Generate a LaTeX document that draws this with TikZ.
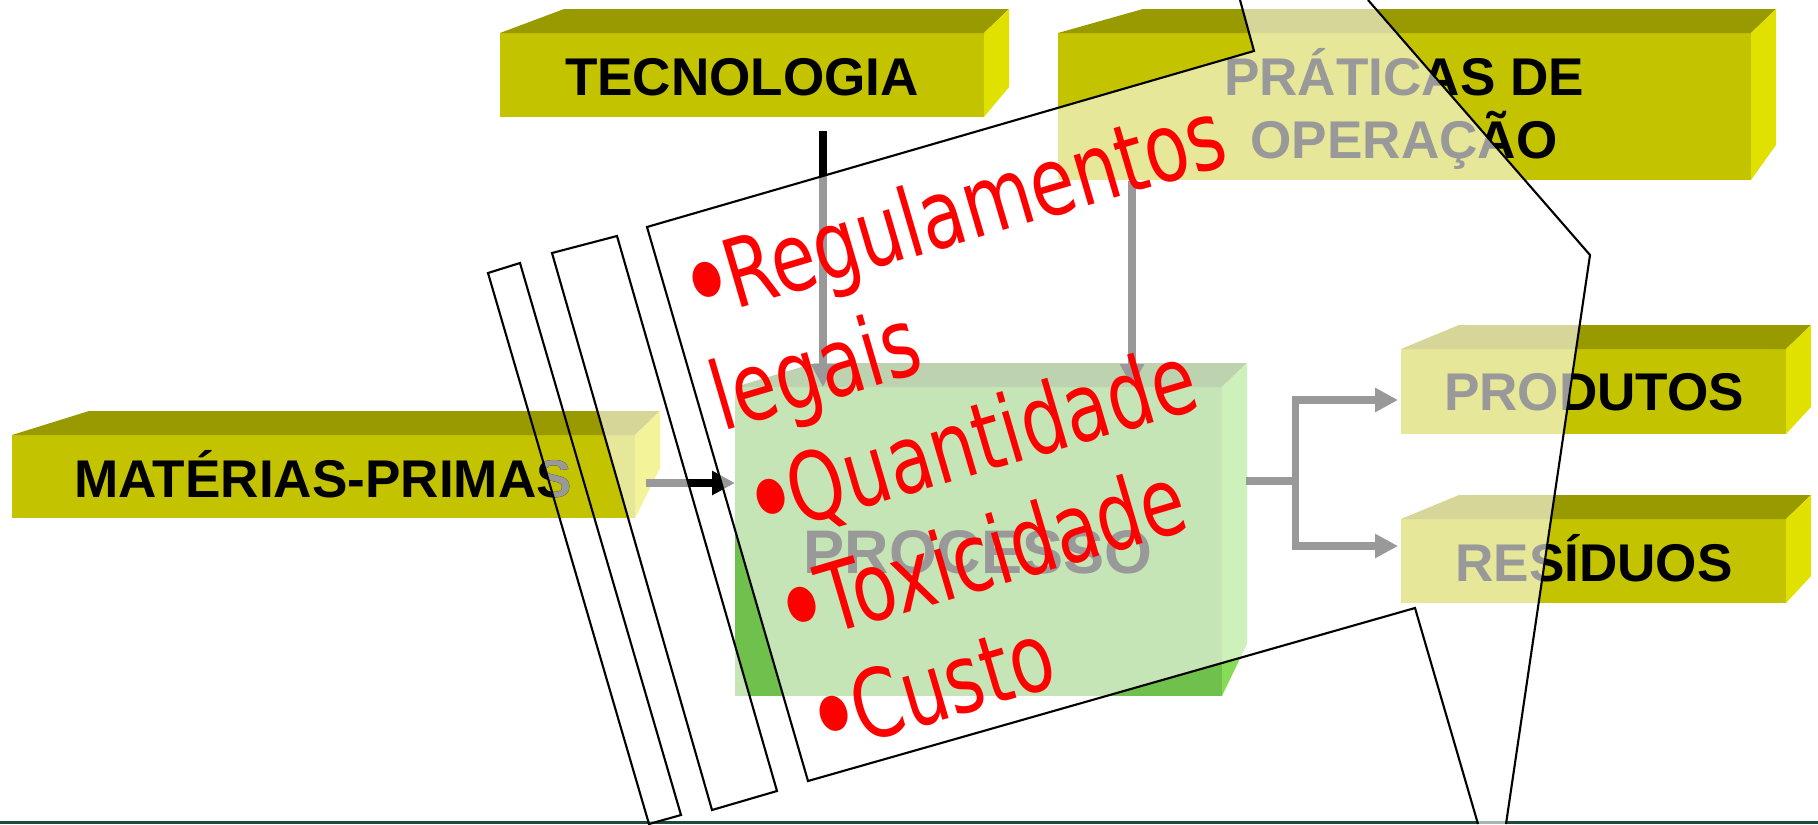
\documentclass[tikz,border=0pt]{standalone}
\usepackage{fontspec}
\newfontfamily\arial{Liberation Sans}
\newfontfamily\tahoma[FakeStretch=0.76]{DejaVu Sans}
\usetikzlibrary{arrows.meta}

\definecolor{amareloF}{HTML}{C3C300}
\definecolor{amareloT}{HTML}{999900}
\definecolor{amareloL}{HTML}{E1E100}
\definecolor{verdeF}{HTML}{70C04D}
\definecolor{verdeT}{HTML}{5A9337}
\definecolor{verdeL}{HTML}{86DC55}
\definecolor{rodape}{HTML}{1F4B39}
\definecolor{cinza}{HTML}{999999}

\newcommand\marca{{\fontsize{35pt}{32pt}\selectfont\raisebox{-2.6pt}{•}}\kern-2.5pt}

\begin{document}
\begin{tikzpicture}[x=0.01cm, y=-0.01cm,
    rotulo/.style={font=\arial\bfseries\fontsize{15.1pt}{18pt}\selectfont, inner sep=0pt, anchor=base},
    topico/.style={text=red, font=\tahoma\fontsize{27pt}{32pt}\selectfont, rotate=16.4, anchor=base west, inner sep=0pt},
    fio/.style={line width=2pt},
    seta/.style={fio, -{Triangle[length=6.5pt,width=6.5pt]}},
    folha/.style={fill=white, fill opacity=0.6}]

    \fill[white] (0,0) rectangle (1818,824);
    \useasboundingbox (0,0) rectangle (1818,824);
    \fill[rodape] (0,821) rectangle (1818,824);

    % caixas 3D: frente, topo, lado
    \foreach \xa/\ya/\xb/\yb/\dl/\db/\cor in {500/33/984/117/64/30/amarelo,
        1058/33/1751/180/85/35/amarelo, 12/435/635/518/77/50/amarelo,
        1401/349/1786/434/58/27/amarelo, 1401/519/1786/603/58/27/amarelo,
        735/387/1222/696/80/52/verde}
    {
        \fill[\cor F] (\xa,\ya) rectangle (\xb,\yb);
        \fill[\cor T] (\xa,\ya) -- ({\xa+\dl},{\ya-24}) -- ({\xb+25},{\ya-24}) -- (\xb,\ya) -- cycle;
        \fill[\cor L] (\xb,\ya) -- ({\xb+25},{\ya-24}) -- ({\xb+25},{\yb-\db}) -- (\xb,\yb) -- cycle;
    }

    \node[rotulo] (tec) at (742,95) {TECNOLOGIA};
    \node[rotulo] (prat) at (1404,95) {PRÁTICAS DE};
    \node[rotulo] (prat2) at (1404,158) {OPERAÇÃO};
    \node[rotulo] (mat) at (323,497) {MATÉRIAS-PRIMAS};
    \node[rotulo, font=\arial\bfseries\fontsize{17.5pt}{21pt}\selectfont] (proc) at (978,573) {PROCESSO};
    \node[rotulo] (prod) at (1594,410) {PRODUTOS};
    \node[rotulo] (res) at (1594,581) {RESÍDUOS};

    % ligacoes
    \coordinate (tec-out) at (823,131);
    \coordinate (prat-out) at (1132,181);
    \coordinate (mat-out) at (646,483);
    \coordinate (proc-in1) at (823,387);
    \coordinate (proc-in2) at (1132,387);
    \coordinate (proc-in3) at (735,483);
    \coordinate (proc-out) at (1246,481);
    \coordinate (junc) at (1295,481);
    \coordinate (prod-in) at (1398,400);
    \coordinate (res-in) at (1398,546);

    \draw[seta] (tec-out) -- (proc-in1);
    \draw[seta] (prat-out) -- (proc-in2);
    \draw[seta] (mat-out) -- (proc-in3);
    \draw[fio] (proc-out) -- (junc);
    \draw[seta] (junc) |- (prod-in);
    \draw[seta] (junc) |- (res-in);

    % folhas
    \coordinate (f1a) at (488,273);
    \coordinate (f1b) at (520,263);
    \coordinate (f1c) at (681,815);
    \coordinate (f1d) at (649,824);
    \begin{scope}
        \clip (f1a) -- (f1b) -- (f1c) -- (f1d) -- cycle;
        \fill[white, opacity=0.6] (0,810) rectangle (1818,824);
        \node[rotulo, text=cinza] at (mat.base) {MATÉRIAS-PRIMAS};
    \end{scope}
    \draw[line width=0.6pt] (f1a) -- (f1b) -- (f1c) -- (f1d) -- cycle;

    \draw[folha, line width=0.6pt] (552,253) -- (617,236) -- (777,791) -- (712,810) -- cycle;

    \fill[folha] (647,227) -- (1254,51) -- (1240,0) -- (1368,0) -- (1590,255) -- (1506,824)
        -- (1478,824) -- (1415,608) -- (808,781) -- cycle;
    \draw[line width=0.6pt] (1240,0) -- (1254,51) -- (647,227) -- (808,781) -- (1415,608) -- (1478,824);
    \draw[line width=0.6pt] (1368,0) -- (1590,255) -- (1506,824);

    % lista em vermelho
    \foreach \txt [count=\i from 0] in {\marca Regulamentos, legais, \marca Quantidade, \marca Toxicidade, \marca Custo}
        \node[topico] (t\i) at ({690+31.9*\i},{323+108.4*\i}) {\txt};

\end{tikzpicture}
\end{document}
